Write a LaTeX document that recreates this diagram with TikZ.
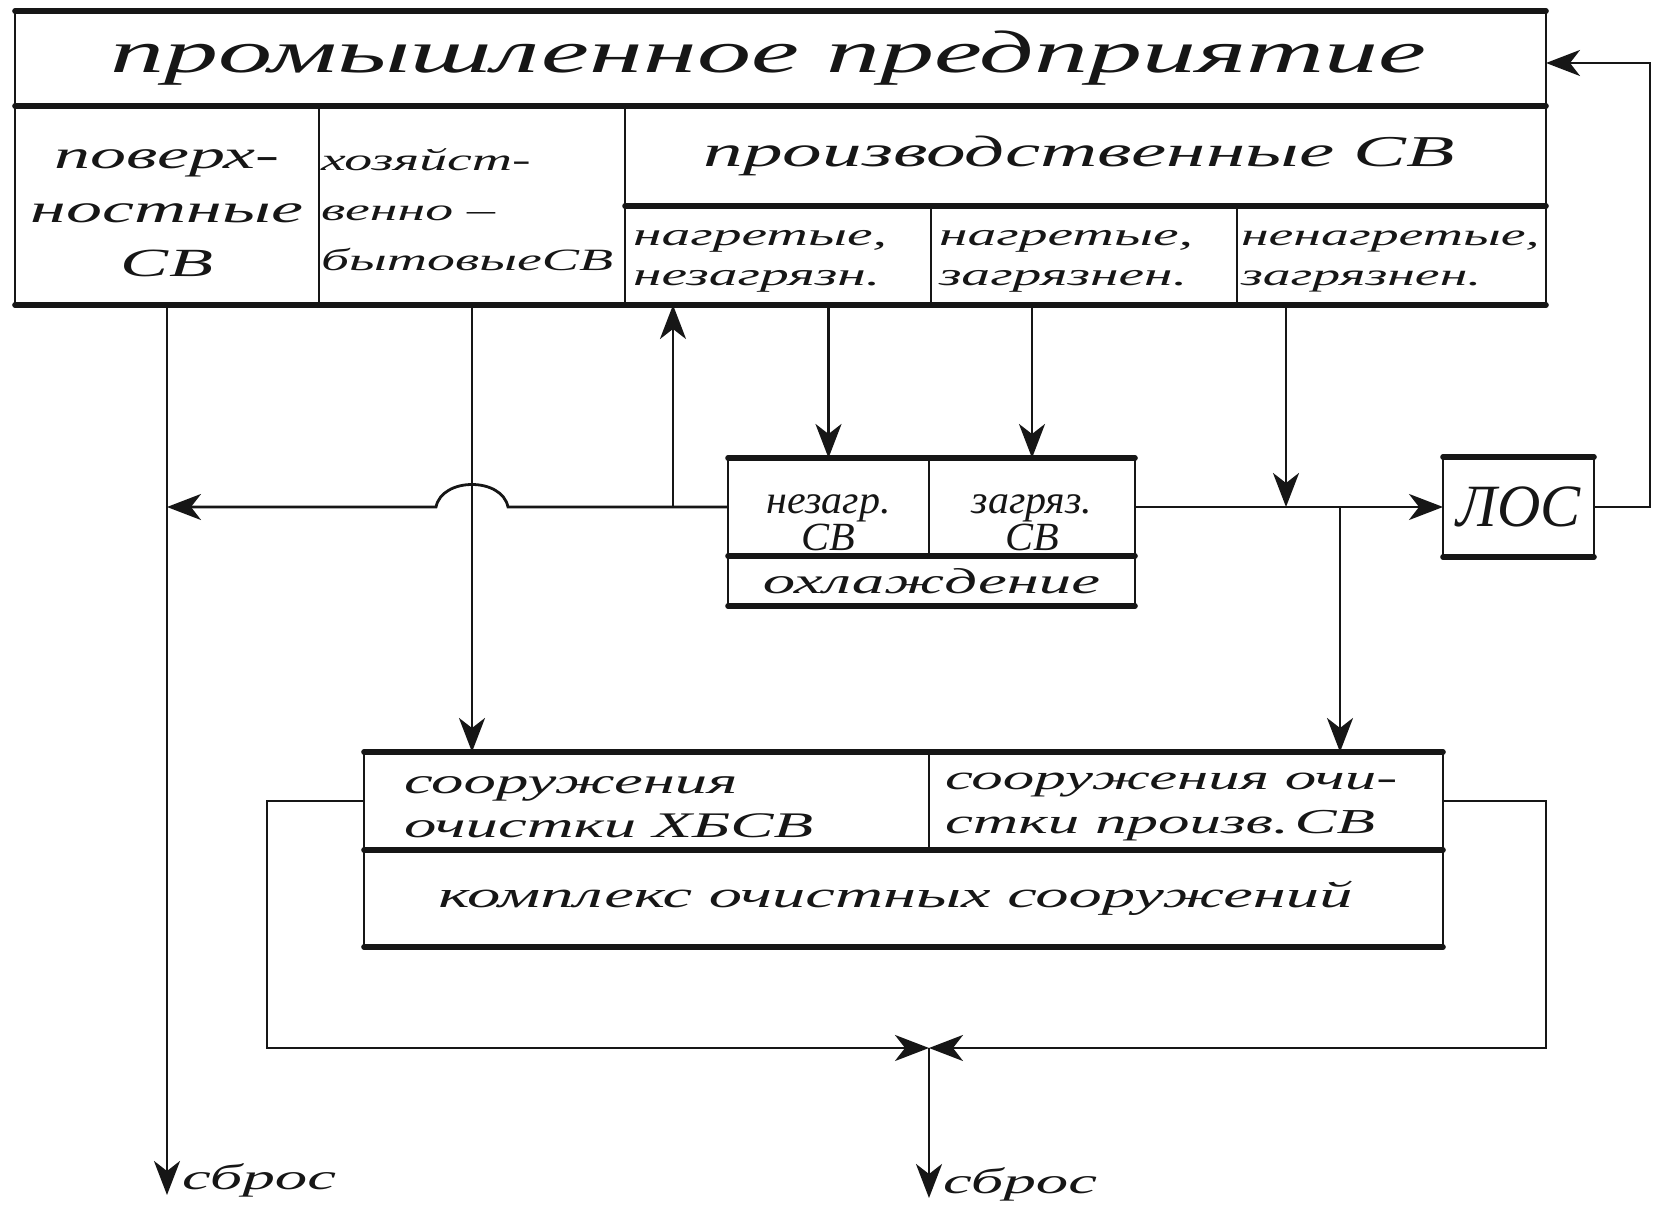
\documentclass[tikz,border=0pt]{standalone}
\usepackage{fontspec}
\setmainfont{Liberation Serif}
\newfontfamily\hwwide[FakeStretch=1.8]{Liberation Serif}
\newfontfamily\hwmid[FakeStretch=1.05]{Liberation Serif}
\usetikzlibrary{arrows.meta,calc}
\definecolor{ink}{RGB}{22,22,22}
\newcommand\fsz[2]{\fontsize{#1}{#2}\selectfont}
\begin{document}
\begin{tikzpicture}[x=0.5pt,y=-0.5pt,
 cellbox/.style={draw=ink, line width=1.4pt, inner sep=0pt, outer sep=0pt, rectangle},
 heavy/.style={draw=ink, line width=2.8pt, line cap=round},
 flow/.style={draw=ink, line width=1.4pt},
 arr/.style={-{Stealth[length=17pt,width=13pt,inset=5pt]}},
 lbl/.style={text=ink, inner sep=0pt, outer sep=0pt},
 wide/.style={lbl, font=\hwwide\itshape\fsz{#1}{#1}},
]
\useasboundingbox[fill=white] (0,0) rectangle (1655,1218);

% ---- top block: industrial enterprise
\node[cellbox, minimum width=765.5pt, minimum height=47.5pt] (title) at (780.5,58.5) {};
\node[cellbox, minimum width=152pt, minimum height=99.5pt] (pov) at (167,205.5) {};
\node[cellbox, minimum width=153pt, minimum height=99.5pt] (hoz) at (472,205.5) {};
\node[cellbox, minimum width=460.5pt, minimum height=50pt] (prod) at (1085.5,156) {};
\node[cellbox, minimum width=153pt, minimum height=49.5pt] (sub1) at (778,255.5) {};
\node[cellbox, minimum width=153pt, minimum height=49.5pt] (sub2) at (1084,255.5) {};
\node[cellbox, minimum width=154.5pt, minimum height=49.5pt] (sub3) at (1391.5,255.5) {};
\draw[heavy] (title.north west) -- (title.north east);
\draw[heavy] (title.south west) -- (title.south east);
\draw[heavy] (prod.south west) -- (prod.south east);
\draw[heavy] (pov.south west) -- (sub3.south east);

% ---- cooling block
\node[cellbox, minimum width=100.5pt, minimum height=49pt] (nez) at (828.5,507) {};
\node[cellbox, minimum width=103pt, minimum height=49pt] (zag) at (1032,507) {};
\node[cellbox, minimum width=203.5pt, minimum height=25pt] (ohl) at (931.5,581) {};
\draw[heavy] (nez.north west) -- (zag.north east);
\draw[heavy] (ohl.north west) -- (ohl.north east);
\draw[heavy] (ohl.south west) -- (ohl.south east);

% ---- local treatment
\node[cellbox, minimum width=75.5pt, minimum height=50pt] (los) at (1518.5,507) {};
\draw[heavy] (los.north west) -- (los.north east);
\draw[heavy] (los.south west) -- (los.south east);

% ---- treatment complex
\node[cellbox, minimum width=282.5pt, minimum height=49pt] (cleanL) at (646.5,801) {};
\node[cellbox, minimum width=257pt, minimum height=49pt] (cleanR) at (1186,801) {};
\node[cellbox, minimum width=539.5pt, minimum height=48.5pt] (complex) at (903.5,898.5) {};
\draw[heavy] (cleanL.north west) -- (cleanR.north east);
\draw[heavy] (complex.north west) -- (complex.north east);
\draw[heavy] (complex.south west) -- (complex.south east);

% ---- texts
\node[wide=30] (t-title) at ([xshift=-6pt]title.center) {промышленное предприятие};
\node[lbl, align=center, font=\hwwide\itshape\fsz{20}{27}] (t-pov) at ([yshift=-4pt]pov.center) {поверх-\\ностные\\СВ};
\node[lbl, align=left, anchor=west, font=\hwwide\itshape\fsz{15.5}{25}] (t-hoz) at ([xshift=1pt,yshift=-2pt]hoz.west) {хозяйст-\\венно –\\бытовыеСВ};
\node[wide=22] (t-prod) at ([xshift=-3pt]prod.center) {производственные СВ};
\node[lbl, align=left, anchor=west, font=\hwwide\itshape\fsz{16}{20}] (t-s1) at ([xshift=4pt,yshift=-3pt]sub1.west) {нагретые,\\незагрязн.};
\node[lbl, align=left, anchor=west, font=\hwwide\itshape\fsz{16}{20}] (t-s2) at ([xshift=4pt,yshift=-3pt]sub2.west) {нагретые,\\загрязнен.};
\node[lbl, align=left, anchor=west, font=\hwwide\itshape\fsz{15.5}{20}] (t-s3) at ([xshift=2pt,yshift=-3pt]sub3.west) {ненагретые,\\загрязнен.};
\node[lbl, align=center, font=\hwmid\itshape\fsz{20}{14}] (t-nez) at ([yshift=-8pt]nez.center) {незагр.\\СВ};
\node[lbl, align=center, font=\hwmid\itshape\fsz{20}{14}] (t-zag) at ([yshift=-8pt]zag.center) {загряз.\\СВ};
\node[wide=18] (t-ohl) at (ohl.center) {охлаждение};
\node[lbl, font=\itshape\fsz{30}{30}] (t-los) at (los.center) {ЛОС};
\node[lbl, align=left, anchor=west, font=\hwwide\itshape\fsz{18}{22}] (t-cl) at ([xshift=20pt,yshift=-3pt]cleanL.west) {сооружения\\очистки ХБСВ};
\node[lbl, align=left, anchor=west, font=\hwwide\itshape\fsz{17.5}{22}] (t-cr) at ([xshift=8pt,yshift=-3pt]cleanR.west) {сооружения очи-\\стки произв.\,СВ};
\node[wide=18.5] (t-cx) at ([xshift=-4pt]complex.center) {комплекс очистных сооружений};

% ---- helper coordinates
\coordinate (hl) at (0,507);
\coordinate (upfoot) at (673,507);
\coordinate (dn3) at (1286,507);
\coordinate (branch) at (1340,507);
\coordinate (loop) at (1650,63);
\coordinate (lcorner) at (267,1048);
\coordinate (rcorner) at (1546,1048);
\coordinate (junc) at (929,1048);
\coordinate (out1) at (167,1195);
\coordinate (out2) at (929,1198);
\path (hoz.south |- hl) ++(36,0) coordinate (hopR);
\path (hoz.south |- hl) ++(-36,0) coordinate (hopL);

% ---- connectors
\draw[flow,arr] (pov.south) -- (out1);
\draw[flow,arr] (hoz.south) -- (hoz.south |- cleanL.north);
\draw[flow,arr] (nez.west) -- (hopR) .. controls ($(hopR)+(-6,-30)$) and ($(hopL)+(6,-30)$) .. (hopL) -- (pov.south |- hl);
\draw[flow,arr] (upfoot) -- (upfoot |- sub1.south);
\draw[flow,arr] (nez.north |- sub1.south) -- (nez.north);
\draw[flow,arr] (zag.north |- sub2.south) -- (zag.north);
\draw[flow,arr] (dn3 |- sub3.south) -- (dn3);
\draw[flow,arr] (zag.east) -- (los.west);
\draw[flow,arr] (branch) -- (branch |- cleanR.north);
\draw[flow,arr] (los.east) -- (los.east -| loop) -- (loop) -- (loop -| title.east);
\draw[flow,arr] (cleanL.west) -- (cleanL.west -| lcorner) -- (lcorner) -- (junc);
\draw[flow,arr] (cleanR.east) -- (cleanR.east -| rcorner) -- (rcorner) -- (junc);
\draw[flow,arr] (junc) -- (out2);

\node[wide=18, anchor=west] (sb1) at (182,1180) {сброс};
\node[wide=18, anchor=west] (sb2) at (943,1184) {сброс};
\end{tikzpicture}
\end{document}
